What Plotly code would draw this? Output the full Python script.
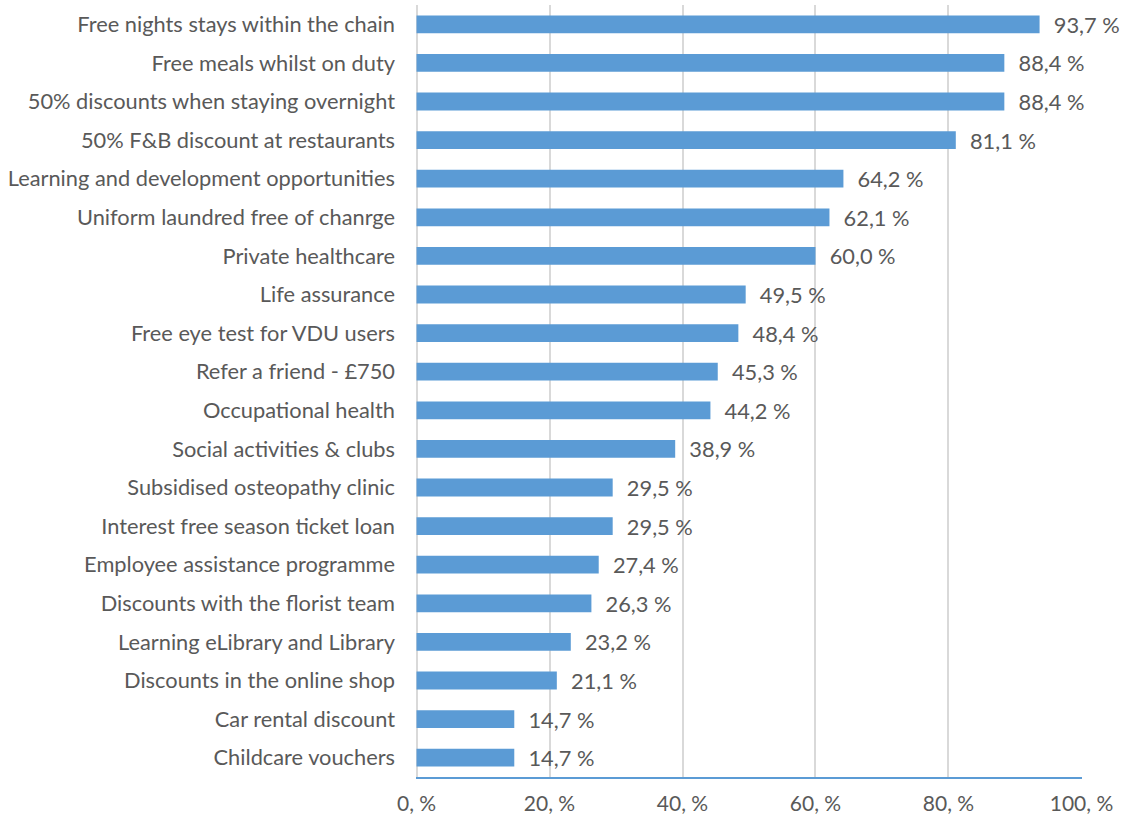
import plotly.graph_objects as go

categories = [
    "Free nights stays within the chain",
    "Free meals whilst on duty",
    "50% discounts when staying overnight",
    "50% F&B discount at restaurants",
    "Learning and development opportunities",
    "Uniform laundred free of chanrge",
    "Private healthcare",
    "Life assurance",
    "Free eye test for VDU users",
    "Refer a friend - £750",
    "Occupational health",
    "Social activities & clubs",
    "Subsidised osteopathy clinic",
    "Interest free season ticket loan",
    "Employee assistance programme",
    "Discounts with the florist team",
    "Learning eLibrary and Library",
    "Discounts in the online shop",
    "Car rental discount",
    "Childcare vouchers",
]
values = [93.7, 88.4, 88.4, 81.1, 64.2, 62.1, 60.0, 49.5, 48.4, 45.3,
          44.2, 38.9, 29.5, 29.5, 27.4, 26.3, 23.2, 21.1, 14.7, 14.7]
tick_values = [0, 20, 40, 60, 80, 100]
tick_labels = ["0, %", "20, %", "40, %", "60, %", "80, %", "100, %"]

FONT = "Lato, Open Sans, sans-serif"
SIZE = 21.8
GREY = "#595959"
BLUE = "#5b9bd5"
GRID = "#d9d9d9"

labels = ["  " + f"{v:.1f}".replace(".", ",") + " %" for v in values]

fig = go.Figure(go.Bar(
    y=categories,
    x=values,
    orientation="h",
    marker=dict(color=BLUE, line=dict(width=0)),
    text=labels,
    textposition="outside",
    constraintext="none",
    textfont=dict(family=FONT, size=SIZE, color=GREY),
    cliponaxis=False,
))

fig.update_layout(
    width=1124,
    height=818,
    margin=dict(l=416, r=42, t=5, b=41),
    paper_bgcolor="white",
    plot_bgcolor="white",
    bargap=0.54,
    showlegend=False,
    font=dict(family=FONT, size=SIZE, color=GREY),
    xaxis=dict(
        range=[-0.08, 100.08],
        tickvals=tick_values,
        ticktext=tick_labels,
        showgrid=True,
        gridcolor=GRID,
        gridwidth=1.5,
        zeroline=True,
        zerolinecolor=GRID,
        zerolinewidth=1.5,
        showline=True,
        linecolor=BLUE,
        linewidth=1.5,
        ticks="",
        ticklabelstandoff=7,
        automargin=False,
        tickfont=dict(family=FONT, size=21, color=GREY),
        fixedrange=True,
    ),
    yaxis=dict(
        categoryorder="array",
        categoryarray=categories[::-1],
        showgrid=False,
        zeroline=False,
        showline=False,
        ticks="",
        ticklabelstandoff=20,
        automargin=False,
        tickfont=dict(family=FONT, size=SIZE, color=GREY),
        fixedrange=True,
    ),
)

fig.write_html("out.html")
